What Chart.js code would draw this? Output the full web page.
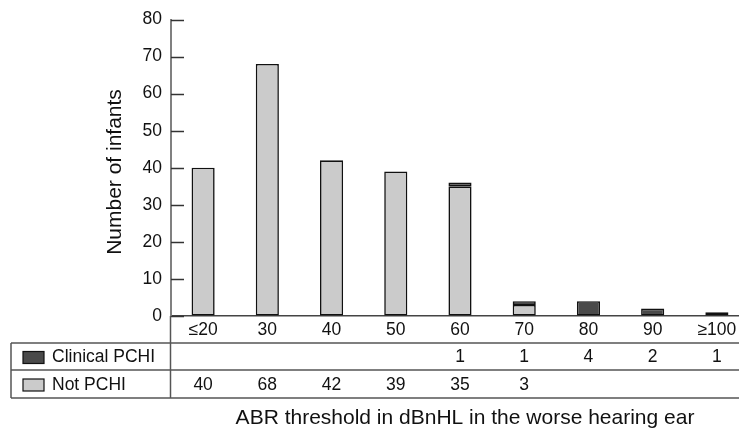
<!DOCTYPE html>
<html>
<head>
<meta charset="utf-8">
<script src="https://cdn.jsdelivr.net/npm/chart.js@4"></script>
<style>
  html, body { margin: 0; padding: 0; background: #fff; overflow: hidden; }
  #wrap { position: relative; width: 749px; height: 431px; }
</style>
</head>
<body>
<div id="wrap"><canvas id="chart"></canvas></div>
<script>
const categories = ['≤20', '30', '40', '50', '60', '70', '80', '90', '≥100'];
const clinicalPCHI = [null, null, null, null, 1, 1, 4, 2, 1];
const notPCHI = [40, 68, 42, 39, 35, 3, null, null, null];
const yTicksMax = 80;
const yTickStep = 10;

const fontFamily = '"Liberation Sans", Arial, sans-serif';
Chart.defaults.font.family = fontFamily;

const rows = [
    { label: 'Clinical PCHI', values: clinicalPCHI, color: '#4a4a4a' },
    { label: 'Not PCHI', values: notPCHI, color: '#cbcbcb' }
];

// draws inner tick marks, the data table under the axis and the axis titles
const tablePlugin = {
    id: 'dataTable',
    afterDraw(chart) {
        const { ctx, chartArea, scales: { x, y } } = chart;
        ctx.save();

        ctx.strokeStyle = '#333';
        ctx.lineWidth = 1.5;
        y.ticks.forEach(t => {
            const py = Math.round(y.getPixelForValue(t.value)) + 0.5;
            ctx.beginPath();
            ctx.moveTo(chartArea.left, py);
            ctx.lineTo(chartArea.left + 13, py);
            ctx.stroke();
        });

        // table grid
        const rowTops = [343, 370, 398];
        ctx.strokeStyle = '#555';
        ctx.lineWidth = 1.5;
        rowTops.forEach(ry => {
            ctx.beginPath();
            ctx.moveTo(11, ry);
            ctx.lineTo(chart.width, ry);
            ctx.stroke();
        });
        ctx.beginPath();
        ctx.moveTo(11, rowTops[0]);
        ctx.lineTo(11, rowTops[2]);
        ctx.stroke();
        ctx.beginPath();
        ctx.moveTo(chartArea.left - 0.5, chartArea.bottom);
        ctx.lineTo(chartArea.left - 0.5, rowTops[2]);
        ctx.stroke();

        ctx.font = '17.5px ' + fontFamily;
        ctx.textBaseline = 'middle';
        rows.forEach((row, r) => {
            const cy = (rowTops[r] + rowTops[r + 1]) / 2 + 1;
            // legend swatch
            ctx.fillStyle = row.color;
            ctx.fillRect(23, cy - 6, 21, 12);
            ctx.strokeStyle = '#111';
            ctx.lineWidth = 1.2;
            ctx.strokeRect(23, cy - 6, 21, 12);
            ctx.fillStyle = '#111';
            ctx.textAlign = 'left';
            ctx.fillText(row.label, 52, cy);
            ctx.textAlign = 'center';
            row.values.forEach((v, i) => {
                if (v === null) return;
                ctx.fillText(String(v), x.getPixelForValue(i), cy);
            });
        });

        // axis titles
        ctx.font = '21px ' + fontFamily;
        ctx.fillStyle = '#111';
        ctx.textAlign = 'center';
        ctx.fillText('ABR threshold in dBnHL in the worse hearing ear', 465, 418);
        ctx.translate(115, 172);
        ctx.rotate(-Math.PI / 2);
        ctx.fillText('Number of infants', 0, 0);

        ctx.restore();
    }
};

const ctx = document.getElementById('chart').getContext('2d');
new Chart(ctx, {
    type: 'bar',
    data: {
        labels: categories,
        datasets: [
            { label: 'Not PCHI', data: notPCHI, backgroundColor: '#cbcbcb', borderColor: '#111', borderWidth: 1.6, borderSkipped: false },
            { label: 'Clinical PCHI', data: clinicalPCHI, backgroundColor: '#4a4a4a', borderColor: '#111', borderWidth: 1.6, borderSkipped: false }
        ]
    },
    options: {
        responsive: true,
        maintainAspectRatio: false,
        animation: false,
        layout: { padding: { top: 17, left: 0, right: 0, bottom: 0 } },
        datasets: { bar: { categoryPercentage: 1, barPercentage: 0.36 } },
        scales: {
            x: {
                stacked: true,
                grid: { drawOnChartArea: false, drawTicks: false },
                border: { color: '#444', width: 1.5 },
                ticks: { color: '#111', font: { size: 17.5 }, padding: 4, maxRotation: 0, autoSkip: false },
                afterFit(scale) { scale.height = 115; }
            },
            y: {
                stacked: true,
                min: 0,
                max: yTicksMax,
                grid: { drawOnChartArea: false, drawTicks: false },
                border: { color: '#808080', width: 2 },
                ticks: { stepSize: yTickStep, color: '#111', font: { size: 17.5 }, padding: 9 },
                afterFit(scale) { scale.width = 171; }
            }
        },
        plugins: {
            legend: { display: false },
            tooltip: { enabled: false }
        }
    },
    plugins: [tablePlugin]
});
</script>
</body>
</html>
